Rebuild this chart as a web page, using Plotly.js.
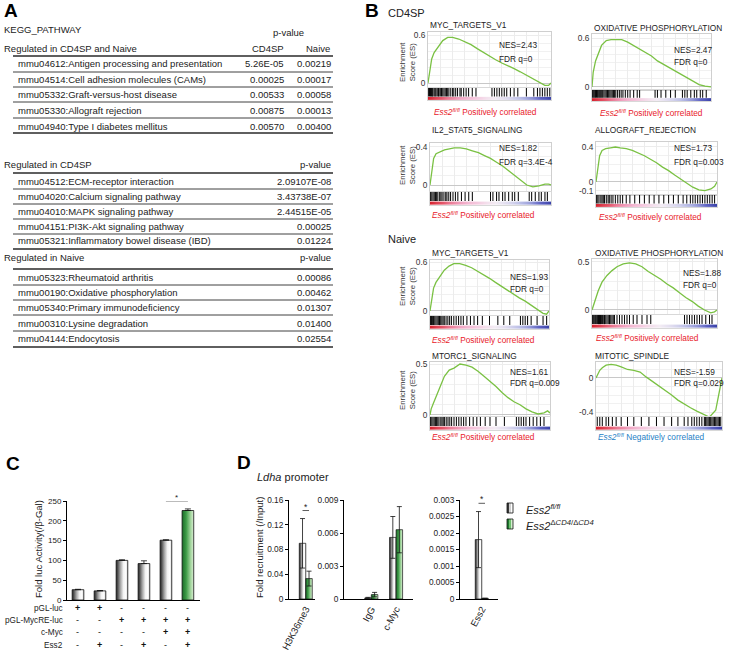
<!DOCTYPE html>
<html><head><meta charset="utf-8">
<script src="https://cdn.plot.ly/plotly-3.0.1.min.js"></script>
<style>html,body{margin:0;padding:0;background:#fff}#chart{width:729px;height:652px}</style>
</head><body><div id="chart"></div>
<script>
// ================= DATA =================
// Panel A
const tabA1Rows=['mmu04612:Antigen processing and presentation','mmu04514:Cell adhesion molecules (CAMs)','mmu05332:Graft-versus-host disease','mmu05330:Allograft rejection','mmu04940:Type I diabetes mellitus'];
const tabA1CD4=['5.26E-05','0.00025','0.00533','0.00875','0.00570'];
const tabA1Naive=['0.00219','0.00017','0.00058','0.00013','0.00400'];
const tabA2Rows=['mmu04512:ECM-receptor interaction','mmu04020:Calcium signaling pathway','mmu04010:MAPK signaling pathway','mmu04151:PI3K-Akt signaling pathway','mmu05321:Inflammatory bowel disease (IBD)'];
const tabA2P=['2.09107E-08','3.43738E-07','2.44515E-05','0.00025','0.01224'];
const tabA3Rows=['mmu05323:Rheumatoid arthritis','mmu00190:Oxidative phosphorylation','mmu05340:Primary immunodeficiency','mmu00310:Lysine degradation','mmu04144:Endocytosis'];
const tabA3P=['0.00086','0.00462','0.01307','0.01400','0.02554'];

// Panel B
const gseaTitles=['MYC_TARGETS_V1','OXIDATIVE PHOSPHORYLATION','IL2_STAT5_SIGNALING','ALLOGRAFT_REJECTION','MYC_TARGETS_V1','OXIDATIVE PHOSPHORYLATION','MTORC1_SIGNALING','MITOTIC_SPINDLE'];
const gseaNES=['2.43','2.47','1.82','1.73','1.93','1.88','1.61','-1.59'];
const gseaFDR=['0','0','3.4E-4','0.003','0','0','0.009','0.029'];
const gseaDir=['pos','pos','pos','pos','pos','pos','pos','neg'];
const esRank=[0,0.01,0.03,0.05,0.08,0.12,0.16,0.2,0.25,0.3,0.35,0.4,0.45,0.5,0.55,0.6,0.65,0.7,0.75,0.8,0.85,0.9,0.95,0.98,1];
const esCD4Myc=[0,0.12,0.30,0.38,0.45,0.53,0.57,0.57,0.55,0.52,0.48,0.43,0.38,0.33,0.29,0.25,0.22,0.18,0.14,0.10,0.06,0.02,-0.03,-0.03,0];
const esCD4Ox=[0,0.18,0.32,0.40,0.51,0.57,0.58,0.58,0.58,0.55,0.51,0.47,0.43,0.38,0.32,0.28,0.24,0.19,0.15,0.11,0.07,0.03,0.01,0,0];
const esCD4Il2=[0,0.10,0.28,0.33,0.35,0.37,0.38,0.39,0.39,0.38,0.36,0.34,0.31,0.28,0.24,0.20,0.15,0.10,0.05,0.0,-0.02,-0.01,0.01,0.01,0];
const esCD4Allo=[0,0.12,0.30,0.36,0.38,0.39,0.40,0.39,0.38,0.36,0.33,0.30,0.26,0.22,0.17,0.13,0.08,0.03,-0.02,-0.06,-0.09,-0.10,-0.08,-0.05,0];
const esNvMyc=[0,0.10,0.28,0.35,0.42,0.50,0.55,0.58,0.58,0.56,0.53,0.49,0.44,0.40,0.35,0.30,0.25,0.20,0.16,0.12,0.07,0.02,-0.03,-0.04,0];
const esNvOx=[0,0.04,0.12,0.20,0.29,0.36,0.41,0.45,0.48,0.49,0.48,0.45,0.40,0.36,0.32,0.27,0.23,0.18,0.13,0.09,0.04,0.0,-0.03,-0.02,0];
const esNvMtor=[0,0.06,0.12,0.18,0.27,0.38,0.44,0.46,0.50,0.49,0.47,0.43,0.38,0.33,0.28,0.22,0.17,0.13,0.10,0.06,0.03,0.01,0.02,0.04,0.02];
const esNvMit=[0,0.03,0.09,0.12,0.15,0.16,0.15,0.13,0.10,0.09,0.07,0.01,-0.04,-0.10,-0.15,-0.20,-0.26,-0.31,-0.35,-0.39,-0.43,-0.46,-0.38,-0.15,0];
const hitsCD4Myc=[0.005,0.012,0.02,0.028,0.035,0.04,0.05,0.058,0.065,0.075,0.085,0.09,0.1,0.11,0.12,0.13,0.14,0.15,0.16,0.17,0.185,0.2,0.21,0.225,0.24,0.26,0.27,0.29,0.31,0.33,0.36,0.39,0.52,0.54,0.56,0.58,0.6,0.62,0.64,0.67,0.7,0.73,0.8,0.86,0.89,0.91,0.93,0.95,0.97,0.99];
const hitsCD4Ox=[0.003,0.01,0.017,0.024,0.03,0.038,0.045,0.052,0.06,0.067,0.074,0.082,0.09,0.1,0.11,0.12,0.13,0.14,0.15,0.16,0.17,0.18,0.19,0.2,0.215,0.23,0.245,0.26,0.28,0.3,0.32,0.35,0.38,0.4,0.53,0.55,0.58,0.62,0.66,0.7,0.76,0.78,0.8,0.83,0.86,0.88,0.91,0.93,0.96];
const hitsCD4Il2=[0.005,0.015,0.025,0.035,0.045,0.055,0.065,0.08,0.09,0.1,0.115,0.13,0.14,0.155,0.17,0.19,0.21,0.23,0.26,0.29,0.32,0.35,0.5,0.52,0.55,0.57,0.6,0.62,0.65,0.68,0.7,0.73,0.82,0.84,0.87,0.9,0.92,0.95,0.97];
const hitsCD4Allo=[0.005,0.015,0.025,0.04,0.05,0.06,0.07,0.085,0.1,0.11,0.125,0.14,0.16,0.18,0.2,0.22,0.25,0.28,0.32,0.36,0.4,0.44,0.48,0.52,0.56,0.6,0.64,0.68,0.72,0.75,0.78,0.8,0.82,0.84,0.86,0.88,0.9,0.92,0.94,0.96,0.98];
const hitsNvMyc=[0.005,0.012,0.02,0.03,0.04,0.05,0.06,0.07,0.08,0.09,0.1,0.11,0.12,0.135,0.15,0.165,0.18,0.2,0.22,0.24,0.26,0.28,0.31,0.34,0.37,0.4,0.44,0.5,0.57,0.62,0.67,0.76,0.78,0.8,0.82,0.85,0.9,0.95,0.98];
const hitsNvOx=[0.003,0.01,0.017,0.024,0.03,0.038,0.045,0.052,0.06,0.068,0.075,0.083,0.09,0.1,0.11,0.12,0.13,0.14,0.15,0.16,0.17,0.18,0.2,0.22,0.24,0.26,0.28,0.3,0.33,0.36,0.4,0.44,0.47,0.74,0.76,0.78,0.8,0.82,0.84,0.86,0.88,0.91,0.94,0.96];
const hitsNvMtor=[0.005,0.015,0.025,0.035,0.045,0.055,0.065,0.075,0.09,0.1,0.11,0.12,0.135,0.15,0.165,0.18,0.2,0.22,0.24,0.26,0.28,0.3,0.33,0.36,0.39,0.42,0.46,0.5,0.55,0.62,0.72,0.74,0.76,0.78,0.8,0.83,0.86,0.89,0.92,0.95];
const hitsNvMit=[0.01,0.03,0.05,0.08,0.1,0.13,0.16,0.2,0.25,0.3,0.36,0.42,0.48,0.54,0.6,0.65,0.7,0.73,0.76,0.78,0.8,0.82,0.84,0.86,0.87,0.88,0.89,0.9,0.91,0.92,0.93,0.94,0.95,0.96,0.97,0.98,0.99];
const rankMetric=[3.0,2.4,1.9,1.5,1.2,0.9,0.6,0.4,0.25,0.12,0.02,-0.08,-0.2,-0.35,-0.55,-0.8,-1.1,-1.5,-2.0,-2.6];
const esSeries=[esCD4Myc,esCD4Ox,esCD4Il2,esCD4Allo,esNvMyc,esNvOx,esNvMtor,esNvMit];
const hitSeries=[hitsCD4Myc,hitsCD4Ox,hitsCD4Il2,hitsCD4Allo,hitsNvMyc,hitsNvOx,hitsNvMtor,hitsNvMit];

// Panel C
const lucValues=[26,23,100,92,151,226];
const lucErrors=[1,1,1.5,7,1,4];
const lucRowLabels=['pGL-luc','pGL-MycRE-luc','c-Myc','Ess2'];
const lucPGL=['+','+','-','-','-','-'];
const lucMycRE=['-','-','+','+','+','+'];
const lucCMyc=['-','-','-','-','+','+'];
const lucEss2=['-','+','-','+','-','+'];

// Panel D
const chipTargets=['H3K36me3','IgG','c-Myc','Ess2'];
const chipFlfl=[0.090,0.0001,0.0056,0.0018];
const chipFlflErr=[0.040,0.00005,0.0019,0.00085];
const chipKO=[0.033,0.0004,0.0063,0.00002];
const chipKOErr=[0.012,0.0002,0.0021,0];
const d1Ticks=['0','0.04','0.08','0.12','0.16'];
const d2Ticks=['0','0.003','0.006','0.009'];
const d3Ticks=['0','0.0005','0.001','0.0015','0.002','0.0025','0.003'];

// ================= LAYOUT HELPERS =================
const W=729,H=652;
const FONT='"Liberation Sans", Arial, sans-serif';
const X=p=>p/W, Y=p=>1-p/H;
const F=(s,c,extra)=>Object.assign({family:FONT,size:s,color:c||'#222'},extra||{});
const layout={width:W,height:H,margin:{l:0,r:0,t:0,b:0},paper_bgcolor:'#fff',plot_bgcolor:'rgba(0,0,0,0)',
  showlegend:false,font:F(9),annotations:[],shapes:[],hovermode:false};
const data=[];
let nAx=0;
function axes(x0,x1,y0,y1,xo,yo){nAx++;const s=nAx===1?'':String(nAx);
  layout['xaxis'+s]=Object.assign({domain:[X(x0),X(x1)],anchor:'y'+s,fixedrange:true,showgrid:false,zeroline:false},xo);
  layout['yaxis'+s]=Object.assign({domain:[Y(y1),Y(y0)],anchor:'x'+s,fixedrange:true,showgrid:false,zeroline:false},yo);
  return {x:'x'+s,y:'y'+s};}
function txt(px,py,t,o){layout.annotations.push(Object.assign({xref:'paper',yref:'paper',x:X(px),y:Y(py),text:t,showarrow:false,xanchor:'left',yanchor:'middle',font:F(9.5)},o||{}));}
function hline(x0,x1,py,w){layout.shapes.push({type:'line',xref:'paper',yref:'paper',x0:X(x0),x1:X(x1),y0:Y(py),y1:Y(py),line:{color:'#2a2a2a',width:w}});}
function rectP(x0,x1,y0,y1,fill,lc){layout.shapes.push({type:'rect',xref:'paper',yref:'paper',x0:X(x0),x1:X(x1),y0:Y(y1),y1:Y(y0),fillcolor:fill,line:{color:lc||'rgba(0,0,0,0)',width:lc?0.8:0}});}

// ================= PANEL A =================
txt(2,10,'<b>A</b>',{font:F(19,'#000')});
txt(2,30,'KEGG_PATHWAY');
txt(288,32,'p-value',{xanchor:'center'});
txt(2,48,'Regulated in CD4SP and Naive');
txt(268,48,'CD4SP',{xanchor:'center'});
txt(318,48,'Naive',{xanchor:'center'});
function tableBlock(rows,cols,colX,rowY,lineY,topY,botY){
  hline(13,333,topY,1.6);
  rows.forEach((r,i)=>{txt(16,rowY[i],r);cols.forEach((c,j)=>txt(colX[j],rowY[i],c[i],{xanchor:'right'}));});
  lineY.forEach(y=>hline(13,333,y,0.9));
  hline(13,333,botY,1.6);
}
tableBlock(tabA1Rows,[tabA1CD4,tabA1Naive],[286,333],[64,80,95,110,126],[72,87,102,118],56,133);
txt(2,164,'Regulated in CD4SP'); txt(333,164,'p-value',{xanchor:'right'});
tableBlock(tabA2Rows,[tabA2P],[333],[181,196.5,211,226,241],[189,204,219,234],173,249);
txt(2,257,'Regulated in Naive'); txt(333,257,'p-value',{xanchor:'right'});
tableBlock(tabA3Rows,[tabA3P],[333],[277,292.5,308,323,338],[285,300,315,331],269,347);

// ================= PANEL B =================
txt(363,10,'<b>B</b>',{font:F(19,'#000')});
txt(386,13,'CD4SP',{font:F(11)});
txt(386,239,'Naive',{font:F(11)});
const boxes=[
 {x0:428,x1:551,y0:32,y1:87,bc:[88,100],r:[-0.05,0.6375],tv:[0,0.6],tt:['0','0.6'],title:[428,25],nes:[497,45,59],lab:[432,112]},
 {x0:592,x1:711,y0:34,y1:90,bc:[90,101],r:[-0.037,0.65],tv:[0,0.6],tt:['0','0.6'],title:[592,28],nes:[672,50,62],lab:[598,113]},
 {x0:430,x1:551,y0:143,y1:191,bc:[192,205],r:[-0.063,0.442],tv:[0,0.4],tt:['0','0.4'],title:[430,130],nes:[497,148,162],lab:[430,215]},
 {x0:596,x1:717,y0:142,y1:195,bc:[195,207],r:[-0.149,0.457],tv:[-0.1,0,0.4],tt:['-0.1','0','0.4'],title:[593,130],nes:[672,148,162],lab:[597,217]},
 {x0:430,x1:549,y0:260,y1:315,bc:[316,329],r:[-0.05,0.625],tv:[0,0.6],tt:['0','0.6'],title:[430,253],nes:[508,277,289],lab:[430,340]},
 {x0:592,x1:717,y0:259,y1:314,bc:[315,328],r:[-0.042,0.531],tv:[0,0.5],tt:['0','0.5'],title:[593,253],nes:[681,273,285],lab:[594,338]},
 {x0:430,x1:550,y0:362,y1:416,bc:[417,430],r:[-0.01,0.52],tv:[0,0.5],tt:['0','0.5'],title:[430,356],nes:[508,372,383],lab:[430,437]},
 {x0:596,x1:722,y0:362,y1:416,bc:[417,430],r:[-0.447,0.188],tv:[-0.4,0],tt:['-0.4','0'],title:[593,356],nes:[672,372,383],lab:[596,437]}
];
const esYTitleY=[62,165,286,390];
const gradScale=[[0,'#27309a'],[0.22,'#5d62c2'],[0.4,'#b9bde6'],[0.5,'#f3ecf4'],[0.56,'#f4c8de'],[0.66,'#f0a2c0'],[0.82,'#e4566a'],[1,'#d6222e']];
boxes.forEach((b,k)=>{
  const a=axes(b.x0,b.x1,b.y0,b.y1,
    {range:[0,1],showticklabels:false,ticks:'',showgrid:true,gridcolor:'#ececec',dtick:0.1,showline:true,mirror:true,linecolor:'#cfcfcf',linewidth:1},
    {range:b.r,tickvals:b.tv,ticktext:b.tt,ticks:'',tickfont:F(8.3,'#333'),showgrid:true,gridcolor:'#ececec',
     minor:{dtick:0.1,showgrid:true,gridcolor:'#f1f1f1'},zeroline:true,zerolinecolor:'#c8c8c8',zerolinewidth:1,
     showline:true,mirror:true,linecolor:'#cfcfcf',linewidth:1});
  data.push({type:'scatter',mode:'lines',x:esRank,y:esSeries[k],xaxis:a.x,yaxis:a.y,line:{color:'#7ac143',width:1.3},hoverinfo:'skip'});
  const c=axes(b.x0,b.x1,b.bc[0],b.bc[1],
    {range:[0,1],showticklabels:false,ticks:'',showline:true,mirror:true,linecolor:'#d8d8d8',linewidth:1},
    {range:[0,1],showticklabels:false,ticks:'',showline:true,mirror:true,linecolor:'#d8d8d8',linewidth:1});
  data.push({type:'heatmap',z:[rankMetric],x:rankMetric.map((_,i)=>i/(rankMetric.length-1)),y:[0,0.26],
    xaxis:c.x,yaxis:c.y,zmin:-3,zmax:3,colorscale:gradScale,zsmooth:'best',showscale:false,hoverinfo:'skip'});
  const hx=[],hy=[];
  hitSeries[k].forEach(h=>{hx.push(h,h,null);hy.push(0.3,1,null);});
  data.push({type:'scatter',mode:'lines',x:hx,y:hy,xaxis:c.x,yaxis:c.y,line:{color:'#0a0a0a',width:1.05},hoverinfo:'skip'});
  txt(b.title[0],b.title[1],gseaTitles[k],{font:F(8.3)});
  txt(b.nes[0],b.nes[1],'NES='+gseaNES[k],{font:F(8.3)});
  txt(b.nes[0],b.nes[2],'FDR q='+gseaFDR[k],{font:F(8.3)});
  const pos=gseaDir[k]==='pos';
  txt(b.lab[0],b.lab[1],'<i>Ess2</i><sup><i>fl/fl</i></sup> '+(pos?'Positively':'Negatively')+' correlated',
      {font:F(8.3,pos?'#e8202a':'#1f7fc6')});
});
esYTitleY.forEach(y=>txt(407,y,'Enrichment<br>Score (ES)',{textangle:-90,xanchor:'center',font:F(7.8,'#333')}));

// ================= PANEL C =================
txt(4,463,'<b>C</b>',{font:F(19,'#000')});
const cA=axes(67,200,501,600,
  {range:[-0.5,5.55],showticklabels:false,ticks:'',showline:true,linecolor:'#000',linewidth:1},
  {range:[0,250],tickvals:[0,50,100,150,200,250],ticks:'outside',ticklen:3,tickcolor:'#000',tickwidth:1,
   showline:true,linecolor:'#000',linewidth:1,tickfont:F(8,'#222')});
const grayScale=[[0,'#262626'],[0.12,'#4a4a4a'],[0.35,'#a0a0a0'],[0.62,'#f2f2f2'],[0.85,'#ffffff'],[1,'#c4c4c4']];
const greenScale=[[0,'#1b6a29'],[0.35,'#3d9b47'],[0.75,'#a6d7a0'],[1,'#dcefd8']];
const cHW=0.265;
lucValues.forEach((v,i)=>{
  data.push({type:'scatter',mode:'lines',x:[i-cHW,i-cHW,i+cHW,i+cHW,i-cHW],y:[0,v,v,0,0],xaxis:cA.x,yaxis:cA.y,
    fill:'toself',fillgradient:{type:'horizontal',colorscale:i===5?greenScale:grayScale},line:{color:'#111',width:0.8},hoverinfo:'skip'});
});
data.push({type:'scatter',mode:'markers',x:lucValues.map((_,i)=>i),y:lucValues,xaxis:cA.x,yaxis:cA.y,marker:{size:1,color:'rgba(0,0,0,0)'},
  error_y:{type:'data',array:lucErrors,arrayminus:lucErrors.map(()=>0),symmetric:false,color:'#111',thickness:0.8,width:3},hoverinfo:'skip'});
layout.shapes.push({type:'line',xref:cA.x,yref:cA.y,x0:4,x1:5,y0:250,y1:250,line:{color:'#555',width:0.8}});
layout.annotations.push({xref:cA.x,yref:cA.y,x:4.5,y:250,text:'*',showarrow:false,yanchor:'bottom',yshift:-3,font:F(8,'#222')});
txt(38,549,'Fold luc Activity(/β-Gal)',{textangle:-90,xanchor:'center',font:F(9.5)});
const lucRows=[lucPGL,lucMycRE,lucCMyc,lucEss2];
const lucRowY=[608,620,632,645];
lucRows.forEach((row,r)=>{
  txt(65,lucRowY[r],lucRowLabels[r],{xanchor:'right',font:F(8.2)});
  row.forEach((s,i)=>layout.annotations.push({xref:cA.x,yref:'paper',x:i,y:Y(lucRowY[r]),text:s==='+'?'<b>+</b>':'-',showarrow:false,
    xanchor:'center',yanchor:'middle',font:F(9,'#111')}));
});

// ================= PANEL D =================
txt(235,462,'<b>D</b>',{font:F(19,'#000')});
txt(255,477,'<i>Ldha</i> promoter',{font:F(11)});
const dPanels=[
  {px:[289,315],xr:[-2.08,1.92],yr:[0,0.16],tv:[0,0.04,0.08,0.12,0.16],tt:d1Ticks,idx:[0],pos:[0],lab:[0.5]},
  {px:[344,413],xr:[-3.7,6.9],yr:[0,0.009],tv:[0,0.003,0.006,0.009],tt:d2Ticks,idx:[1,2],pos:[0,3.8],lab:[0.5,4.3]},
  {px:[460,498],xr:[-2.85,3],yr:[0,0.003],tv:[0,0.0005,0.001,0.0015,0.002,0.0025,0.003],tt:d3Ticks,idx:[3],pos:[0],lab:[0.5]}
];
const dAx=[];
dPanels.forEach(p=>{
  const a=axes(p.px[0],p.px[1],500,599,
    {range:p.xr,tickvals:p.lab,ticktext:p.idx.map(i=>chipTargets[i]),tickangle:-62,ticks:'',showline:true,linecolor:'#000',linewidth:1,tickfont:F(9.5,'#222')},
    {range:p.yr,tickvals:p.tv,ticktext:p.tt,ticks:'outside',ticklen:3,tickcolor:'#000',tickwidth:1,showline:true,linecolor:'#000',linewidth:1,tickfont:F(8.3,'#222')});
  dAx.push(a);
  const ex=[],ey=[],ee=[];
  p.idx.forEach((ti,j)=>{
    const g=p.pos[j];
    [[g,chipFlfl[ti],chipFlflErr[ti],grayScale],[g+1,chipKO[ti],chipKOErr[ti],greenScale]].forEach(([c,v,e,sc])=>{
      data.push({type:'scatter',mode:'lines',x:[c-0.5,c-0.5,c+0.5,c+0.5,c-0.5],y:[0,v,v,0,0],xaxis:a.x,yaxis:a.y,
        fill:'toself',fillgradient:{type:'horizontal',colorscale:sc},line:{color:'#111',width:0.7},hoverinfo:'skip'});
      ex.push(c);ey.push(v);ee.push(e);
    });
  });
  data.push({type:'scatter',mode:'markers',x:ex,y:ey,xaxis:a.x,yaxis:a.y,marker:{size:1,color:'rgba(0,0,0,0)'},
    error_y:{type:'data',array:ee,symmetric:true,color:'#111',thickness:0.8,width:2.5},hoverinfo:'skip'});
});
layout.shapes.push({type:'line',xref:dAx[0].x,yref:dAx[0].y,x0:0,x1:1,y0:0.143,y1:0.143,line:{color:'#333',width:0.8}});
layout.annotations.push({xref:dAx[0].x,yref:dAx[0].y,x:0.5,y:0.143,text:'*',showarrow:false,yanchor:'bottom',yshift:-3,font:F(8.5)});
layout.shapes.push({type:'line',xref:dAx[2].x,yref:dAx[2].y,x0:0,x1:1,y0:0.0029,y1:0.0029,line:{color:'#333',width:0.8}});
layout.annotations.push({xref:dAx[2].x,yref:dAx[2].y,x:0.5,y:0.0029,text:'*',showarrow:false,yanchor:'bottom',yshift:-3,font:F(8.5)});
txt(259,548,'Fold recruitment (/Input)',{textangle:-90,xanchor:'center',font:F(9.5)});
// legend
rectP(507,509,503,513,'#3a3a3a'); rectP(509,511,503,513,'#cfcfcf'); rectP(511,513,503,513,'#ffffff'); rectP(507,513,503,513,'rgba(0,0,0,0)','#111');
rectP(507,509,519,529,'#1f7a2f'); rectP(509,511,519,529,'#6fbf6f'); rectP(511,513,519,529,'#d6efd0'); rectP(507,513,519,529,'rgba(0,0,0,0)','#111');
txt(524,509,'<i>Ess2</i><sup><i>fl/fl</i></sup>',{font:F(11)});
txt(524,525,'<i>Ess2</i><sup>Δ<i>CD4</i>/Δ<i>CD4</i></sup>',{font:F(11)});

Plotly.newPlot('chart',data,layout,{staticPlot:true,displayModeBar:false});
</script></body></html>
